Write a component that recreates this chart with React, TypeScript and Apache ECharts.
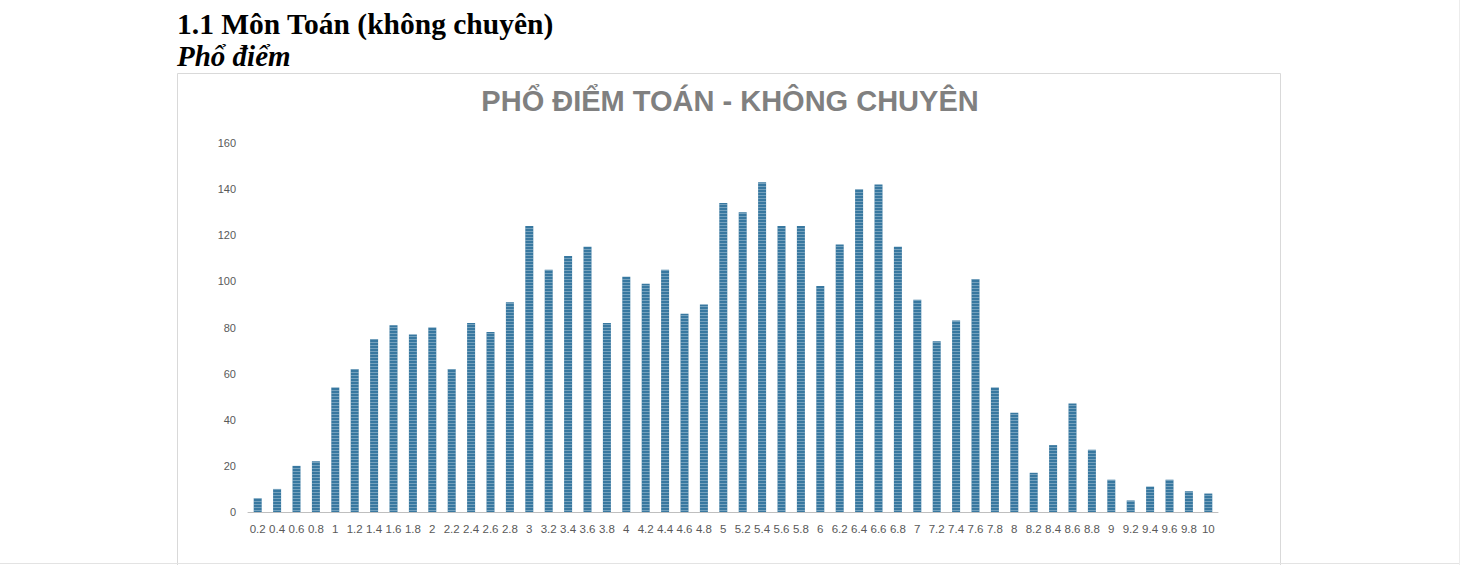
import React, { useEffect, useRef } from "react";
import * as echarts from "echarts";

// điểm (trục X)
const categories: string[] = [
  "0.2", "0.4", "0.6", "0.8", "1", "1.2", "1.4", "1.6", "1.8", "2",
  "2.2", "2.4", "2.6", "2.8", "3", "3.2", "3.4", "3.6", "3.8", "4",
  "4.2", "4.4", "4.6", "4.8", "5", "5.2", "5.4", "5.6", "5.8", "6",
  "6.2", "6.4", "6.6", "6.8", "7", "7.2", "7.4", "7.6", "7.8", "8",
  "8.2", "8.4", "8.6", "8.8", "9", "9.2", "9.4", "9.6", "9.8", "10",
];

// số thí sinh theo từng mức điểm
const counts: number[] = [
  6, 10, 20, 22, 54, 62, 75, 81, 77, 80,
  62, 82, 78, 91, 124, 105, 111, 115, 82, 102,
  99, 105, 86, 90, 134, 130, 143, 124, 124, 98,
  116, 140, 142, 115, 92, 74, 83, 101, 54, 43,
  17, 29, 47, 27, 14, 5, 11, 14, 9, 8,
];

const yTicks: number[] = [0, 20, 40, 60, 80, 100, 120, 140, 160];

const headingText = "1.1 Môn Toán (không chuyên)";
const subHeadingText = "Phổ điểm";
const chartTitle = "PHỔ ĐIỂM TOÁN - KHÔNG CHUYÊN";

const App: React.FC = () => {
  const chartRef = useRef<HTMLDivElement>(null);

  useEffect(() => {
    const chart = echarts.init(chartRef.current!, undefined, { renderer: "svg" });

    const option: any = {
      animation: false,
      backgroundColor: "#ffffff",
      aria: { enabled: true, decal: { show: true } },
      title: {
        text: chartTitle,
        left: "center",
        top: 81,
        textStyle: {
          fontFamily: "Liberation Sans",
          fontWeight: "bold",
          fontSize: 29,
          color: "#808080",
          lineHeight: 29,
        },
      },
      graphic: [
        {
          type: "text",
          x: 177,
          y: 24,
          style: {
            text: headingText,
            fontFamily: "Liberation Serif",
            fontWeight: "bold",
            fontSize: 29.5,
            fill: "#000000",
            verticalAlign: "middle",
          },
        },
        {
          type: "text",
          x: 177,
          y: 56,
          style: {
            text: subHeadingText,
            fontFamily: "Liberation Serif",
            fontWeight: "bold",
            fontStyle: "italic",
            fontSize: 29,
            fill: "#000000",
            verticalAlign: "middle",
          },
        },
        {
          type: "rect",
          shape: { x: 177.5, y: 73.5, width: 1103, height: 520 },
          style: { fill: "none", stroke: "#d9d9d9", lineWidth: 1 },
          silent: true,
        },
        {
          type: "line",
          shape: { x1: 0, y1: 563.5, x2: 1460, y2: 563.5 },
          style: { stroke: "#e3e3e3", lineWidth: 1 },
          silent: true,
        },
        {
          type: "line",
          shape: { x1: 1459.5, y1: 0, x2: 1459.5, y2: 565 },
          style: { stroke: "#ececec", lineWidth: 1 },
          silent: true,
        },
      ],
      grid: {
        left: 248,
        right: 242,
        top: 143,
        bottom: 53,
        containLabel: false,
      },
      xAxis: {
        type: "category",
        data: categories,
        axisTick: { show: false },
        axisLine: { lineStyle: { color: "#bfbfbf", width: 1 } },
        axisLabel: {
          interval: 0,
          margin: 11,
          fontFamily: "Liberation Sans",
          fontSize: 11.5,
          color: "#595959",
        },
      },
      yAxis: {
        type: "value",
        min: yTicks[0],
        max: yTicks[yTicks.length - 1],
        interval: 20,
        axisLine: { show: false },
        axisTick: { show: false },
        splitLine: { show: false },
        axisLabel: {
          margin: 12,
          fontFamily: "Liberation Sans",
          fontSize: 11,
          color: "#595959",
        },
      },
      series: [
        {
          type: "bar",
          data: counts,
          barWidth: 8,
          itemStyle: {
            color: "#3878a0",
            decal: {
              symbol: "rect",
              symbolSize: 1,
              color: "rgba(255,255,255,0.3)",
              dashArrayX: [1, 0],
              dashArrayY: [1, 2],
              rotation: 0,
            },
          },
        },
      ],
    };

    chart.setOption(option);

    return () => {
      chart.dispose();
    };
  }, []);

  return (
    <div
      ref={chartRef}
      style={{
        position: "fixed",
        left: 0,
        top: 0,
        width: "1460px",
        height: "565px",
        background: "#ffffff",
      }}
    ></div>
  );
};

export default App;
